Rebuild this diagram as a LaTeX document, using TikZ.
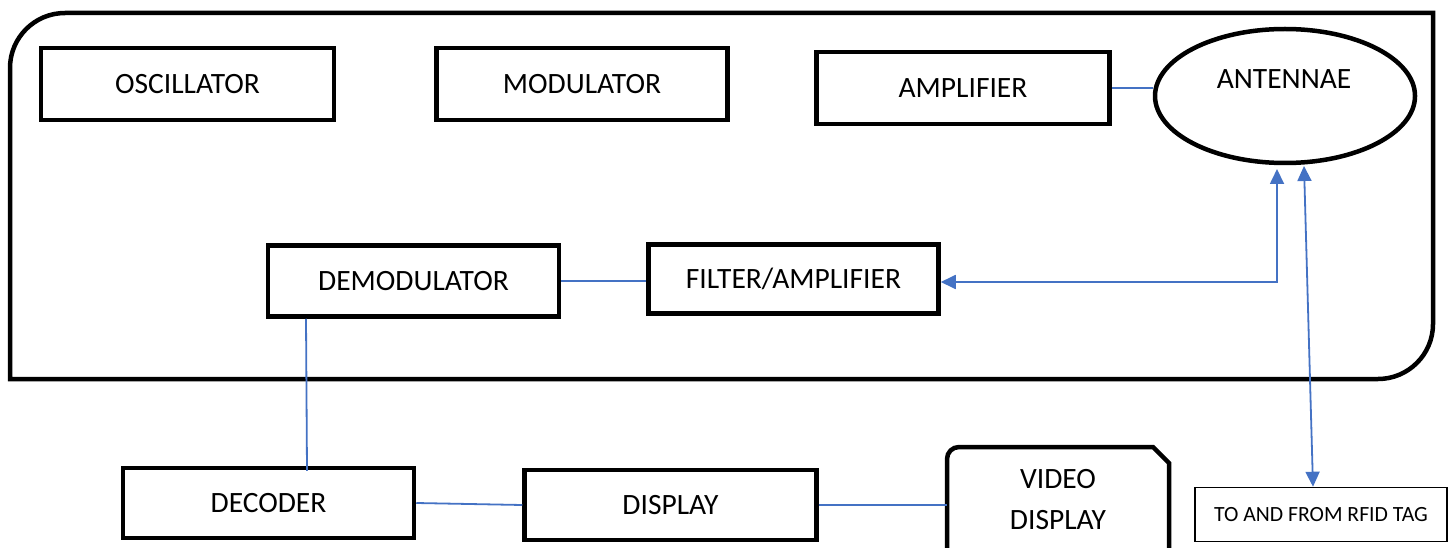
\documentclass[tikz,border=0pt]{standalone}
\usepackage{fontspec}
\setmainfont{Carlito}
\usetikzlibrary{arrows.meta,calc,shapes.geometric}
\definecolor{lineblue}{HTML}{4472C4}
\begin{document}
\begin{tikzpicture}[x=1pt,y=-1pt,
  blk/.style={draw=black,line width=4.5pt,rectangle,inner sep=0pt,font=\fontsize{29.5}{35}\selectfont},
  txt/.style={inner sep=0pt,font=\fontsize{29.5}{41}\selectfont,align=center},
  sig/.style={draw=lineblue,line width=1.8pt},
  tip/.style={{Triangle[length=15pt,width=14pt]}-{Triangle[length=15pt,width=14pt]}}
]
\path[use as bounding box] (0,0) rectangle (1455,548);
\clip (0,0) rectangle (1455,548);
% outer container
\draw[line width=4.5pt] (10,379) -- (10,200) [rounded corners=55pt] -- (10,13) -- (600,13)
  [sharp corners] -- (1433,13) -- (1433,200) [rounded corners=55pt] -- (1433,379) -- (600,379)
  [sharp corners] -- cycle;
% blocks
\node[blk,minimum width=293pt,minimum height=72pt] (osc) at (187.5,84) {OSCILLATOR};
\node[blk,minimum width=291pt,minimum height=72pt] (mod) at (582,84) {MODULATOR};
\node[blk,minimum width=293pt,minimum height=72pt] (amp) at (963,88) {AMPLIFIER};
\node[draw=black,line width=4.5pt,ellipse,inner sep=0pt,minimum width=260pt,minimum height=134pt] (antenna) at (1285,96) {};
\node[txt] (antlabel) at (1284,79) {ANTENNAE};
\node[blk,minimum width=291pt,minimum height=71pt] (demod) at (413.5,281) {DEMODULATOR};
\node[blk,minimum width=290pt,minimum height=69pt] (filter) at (793.5,279) {FILTER/AMPLIFIER};
\node[blk,minimum width=291pt,minimum height=70pt] (dec) at (268.5,503) {DECODER};
\node[blk,minimum width=292pt,minimum height=70pt] (disp) at (670.5,505) {DISPLAY};
% video display (snipped corner shape, cut by page edge)
\draw[line width=4.5pt] (947,570) -- (947,460) [rounded corners=12pt] -- (947,447) -- (1000,447)
  [sharp corners] -- (1153,447) -- (1169,463) -- (1169,570);
\node[txt,minimum width=222pt,minimum height=110pt] (video) at (1058,500) {VIDEO\\DISPLAY};
\node[draw=black,line width=1.5pt,rectangle,inner sep=0pt,minimum width=252pt,minimum height=54pt,
  font=\fontsize{21.7}{26}\selectfont] (rfid) at (1321,514.5) {TO AND FROM RFID TAG};
% connectors
\coordinate (a1) at (1277,169);
\coordinate (a2) at (1304,166);
\draw[sig] (amp.east) -- (amp.east -| antenna.west);
\draw[sig] (demod.east) -- (demod.east -| filter.west);
\draw[sig,tip] (filter.east |- 0,282) -| (a1);
\draw[sig,tip] (a2) -- ($(rfid.north)+(-8,0)$);
\draw[sig] ($(demod.south)+(-107.5,0)$) -- ($(dec.north)+(38.5,5)$);
\draw[sig] (dec.east) -- (disp.west);
\draw[sig] (disp.east) -- (disp.east -| 947,0);
\end{tikzpicture}
\end{document}
